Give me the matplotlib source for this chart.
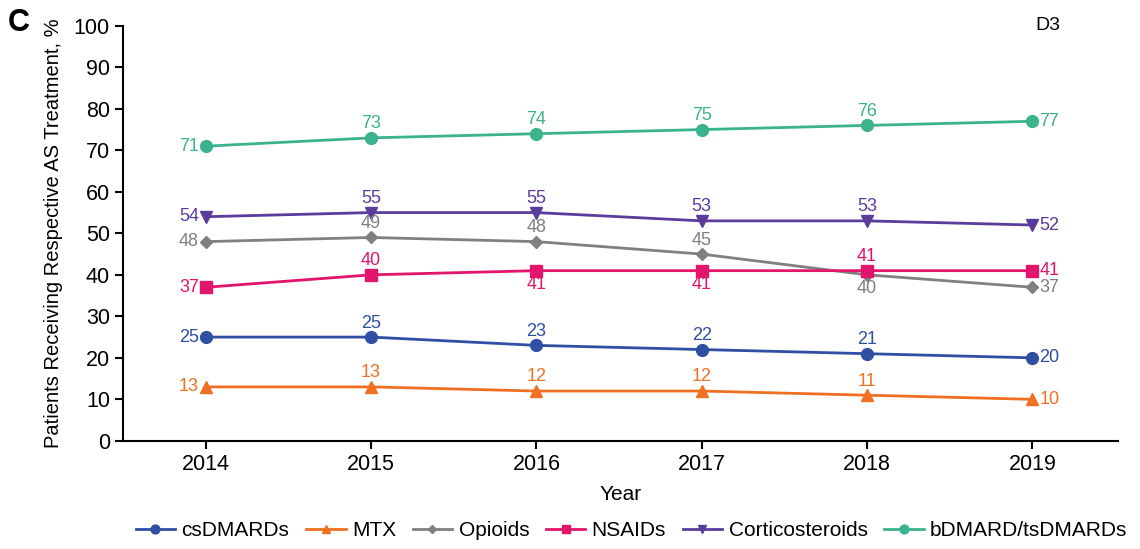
import numpy as np
import matplotlib
matplotlib.use("Agg")
from matplotlib import pyplot as plt

plt.rcParams['font.family'] = ['Liberation Sans', 'DejaVu Sans']

# data
years = [2014, 2015, 2016, 2017, 2018, 2019]
csdmards = [25, 25, 23, 22, 21, 20]
mtx = [13, 13, 12, 12, 11, 10]
opioids = [48, 49, 48, 45, 40, 37]
nsaids = [37, 40, 41, 41, 41, 41]
cortico = [54, 55, 55, 53, 53, 52]
bdmard = [71, 73, 74, 75, 76, 77]

# name, values, color, marker, size, label position for the middle points (a=above, b=below)
series = [
    ("csDMARDs", csdmards, "#2f4fa3", "o", 8.5, "aaaa"),
    ("MTX", mtx, "#f07023", "^", 8.5, "aaaa"),
    ("Opioids", opioids, "#808080", "D", 6, "aaab"),
    ("NSAIDs", nsaids, "#e0156b", "s", 8, "abba"),
    ("Corticosteroids", cortico, "#5b3c9c", "v", 8.5, "aaaa"),
    ("bDMARD/tsDMARDs", bdmard, "#3bb38c", "o", 8.5, "aaaa"),
]
lab_fs = 13

fig = plt.figure(figsize=(11.4, 5.49), dpi=100)
ax = fig.add_axes([0.108, 0.197, 0.873, 0.756])

for name, vals, col, mk, ms, pos in series:
    ax.plot(years, vals, color=col, marker=mk, markersize=ms, lw=2, label=name)
    # first and last labels beside the point
    ax.annotate(str(vals[0]), (years[0], vals[0]), xytext=(-5, 0), textcoords="offset points",
                ha="right", va="center", color=col, fontsize=lab_fs)
    ax.annotate(str(vals[-1]), (years[-1], vals[-1]), xytext=(5, 0), textcoords="offset points",
                ha="left", va="center", color=col, fontsize=lab_fs)
    for i in range(1, 5):
        if pos[i - 1] == "a":
            ax.annotate(str(vals[i]), (years[i], vals[i]), xytext=(0, 4), textcoords="offset points",
                        ha="center", va="bottom", color=col, fontsize=lab_fs)
        else:
            ax.annotate(str(vals[i]), (years[i], vals[i]), xytext=(0, -4), textcoords="offset points",
                        ha="center", va="top", color=col, fontsize=lab_fs)

ax.set_xlim(2013.5, 2019.52)
ax.set_ylim(0, 100)
ax.set_yticks(np.arange(0, 101, 10))
ax.set_xticks(years)
ax.spines['top'].set_visible(False)
ax.spines['right'].set_visible(False)
ax.spines['left'].set_linewidth(1.5)
ax.spines['bottom'].set_linewidth(1.5)
ax.tick_params(axis='both', labelsize=15.5, width=1.5, length=6)
ax.set_xlabel("Year", fontsize=15, labelpad=7)
ax.set_ylabel("Patients Receiving Respective AS Treatment, %", fontsize=14.5, labelpad=8)

fig.text(0.007, 0.985, "C", fontsize=22, fontweight="bold", va="top")
ax.text(0.942, 1.0, "D3", transform=ax.transAxes, fontsize=14, ha="right", va="center")

fig.legend(loc="center", bbox_to_anchor=(0.554, 0.034), ncol=6, frameon=False,
           fontsize=15, handlelength=1.9, handletextpad=0.3, columnspacing=0.8,
           markerscale=0.75)

fig.savefig("out.png", dpi=100)
